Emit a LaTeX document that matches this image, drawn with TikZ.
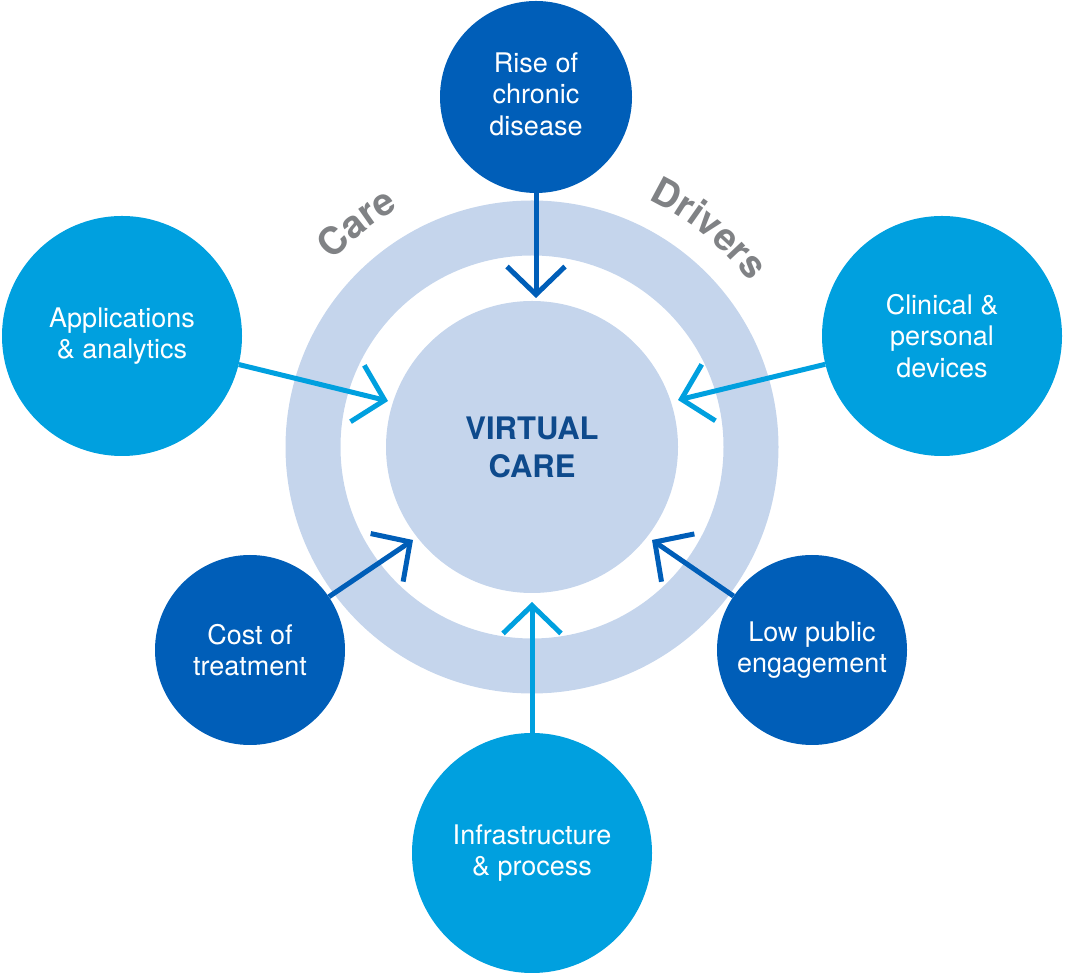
\documentclass[tikz,border=0pt]{standalone}
\usepackage{fontspec}
\setmainfont{TeX Gyre Heros}
\usepackage{tikz}
\usetikzlibrary{positioning}
\usetikzlibrary{arrows.meta, decorations.text}

\definecolor{darkblue}{HTML}{005EB8}
\definecolor{lightblue}{HTML}{00A0DF}
\definecolor{paleblue}{HTML}{C5D5EC}
\definecolor{navytext}{HTML}{0E4A8C}
\definecolor{greytext}{HTML}{808285}
\newcommand{\ringfont}{\fontsize{38}{38}\selectfont\bfseries}

\begin{document}
\begin{tikzpicture}[x=1pt,y=1pt]

\tikzset{driver/.style={
		circle,
		fill=#1,
		text=white,
		align=center,
		inner sep=0pt,
		font=\fontsize{27}{31.5}\selectfont
	},
	driver/.default=darkblue,
	small driver/.style={driver=darkblue, minimum size=190pt},
	big driver/.style={driver=lightblue, minimum size=240pt},
	driver arrow/.style={
		line width=5pt,
		draw=#1,
		-{Straight Barb[length=28pt,width=58pt]}
	},
	ring label/.style={
		decorate,
		decoration={text along path, text color=greytext,
			text align=center, text={|\ringfont|#1}}
	}
}
\useasboundingbox (0,0) rectangle (1065,974);

% ring and centre
\node[circle, draw=paleblue, line width=55pt, minimum size=438pt] (ring) at (532,527) {};
\node[circle, fill=paleblue, minimum size=292pt, align=center, text=navytext,
	font=\fontsize{31}{38}\selectfont\bfseries] (virtual) at (532,527) {VIRTUAL\\CARE};

\path[ring label=Care] ([shift={(150:273pt)}]virtual.center) arc[start angle=150, end angle=106, radius=273pt];
\path[ring label=Drivers] ([shift={(80:273pt)}]virtual.center) arc[start angle=80, end angle=22, radius=273pt];

% drivers
\node[driver, minimum size=192pt, text depth=6pt] (rise) at (536,877) {Rise of\\chronic\\disease};
\node[big driver] (apps) at (122,638) {Applications\\\& analytics};
\node[big driver] (devices) at (942,638) {Clinical \&\\personal\\devices};
\node[small driver] (cost) at (250,324) {Cost of\\treatment};
\node[small driver] (engage) at (812,324) {Low public\\engagement};
\node[big driver] (infra) at (532,121) {Infrastructure\\\& process};

\coordinate (riseend) at (536,676);
\coordinate (appsend) at (388,573);
\coordinate (devicesend) at (678,574);
\coordinate (costend) at (413,434);
\coordinate (engageend) at (652,434);
\coordinate (infraend) at (532,372);

\draw[driver arrow=darkblue] (rise) -- (riseend);
\draw[driver arrow=lightblue] (apps) -- (appsend);
\draw[driver arrow=lightblue] (devices) -- (devicesend);
\draw[driver arrow=darkblue] (cost) -- (costend);
\draw[driver arrow=darkblue] (engage) -- (engageend);
\draw[driver arrow=lightblue] (infra) -- (infraend);
\end{tikzpicture}
\end{document}
